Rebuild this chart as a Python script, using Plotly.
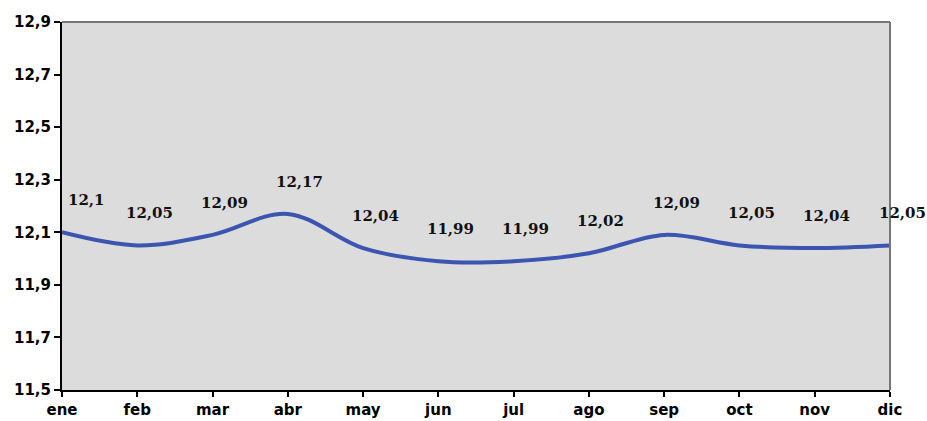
import plotly.graph_objects as go

months = ["ene", "feb", "mar", "abr", "may", "jun", "jul", "ago", "sep", "oct", "nov", "dic"]
values = [12.10, 12.05, 12.09, 12.17, 12.04, 11.99, 11.99, 12.02, 12.09, 12.05, 12.04, 12.05]
labels = ["12,1", "12,05", "12,09", "12,17", "12,04", "11,99", "11,99", "12,02", "12,09", "12,05", "12,04", "12,05"]
y_ticks = [11.5, 11.7, 11.9, 12.1, 12.3, 12.5, 12.7, 12.9]
y_tick_text = ["11,5", "11,7", "11,9", "12,1", "12,3", "12,5", "12,7", "12,9"]

fig = go.Figure()
fig.add_trace(go.Scatter(
    x=months, y=values, mode="lines",
    line=dict(color="#3b55b0", width=4, shape="spline", smoothing=1.0),
    hoverinfo="skip", showlegend=False, cliponaxis=False,
))

for i, (m, v, t) in enumerate(zip(months, values, labels)):
    fig.add_annotation(
        x=m, y=v, text=t, showarrow=False,
        xshift=24 if i == 0 else 12, yshift=32,
        font=dict(family="DejaVu Serif", size=15, color="#111111", weight="bold"),
    )

tick_font = dict(family="DejaVu Sans", size=15, color="black", weight="bold")

fig.update_layout(
    width=927, height=421,
    margin=dict(l=62, r=37, t=22, b=31, autoexpand=False),
    paper_bgcolor="white",
    plot_bgcolor="#dcdcdc",
    xaxis=dict(
        type="category", range=[0, 11], automargin=False,
        showgrid=False, zeroline=False,
        showline=True, linecolor="black", linewidth=2, mirror=False,
        ticks="outside", ticklen=5, tickwidth=2, tickcolor="black",
        tickfont=tick_font,
    ),
    yaxis=dict(
        range=[11.5, 12.9], tickvals=y_ticks, ticktext=y_tick_text, automargin=False,
        showgrid=False, zeroline=False,
        showline=True, linecolor="black", linewidth=2,
        ticks="outside", ticklen=6, tickwidth=2, tickcolor="black",
        tickfont=tick_font,
    ),
    shapes=[
        dict(type="line", xref="paper", yref="paper", x0=0, x1=1, y0=1, y1=1,
             line=dict(color="#777777", width=2)),
        dict(type="line", xref="paper", yref="paper", x0=1, x1=1, y0=0, y1=1,
             line=dict(color="#777777", width=2)),
    ],
)

fig.write_html(
    "out.html",
    config={"displayModeBar": False},
    post_script="document.body.style.margin='0';document.body.style.overflow='hidden';",
)
